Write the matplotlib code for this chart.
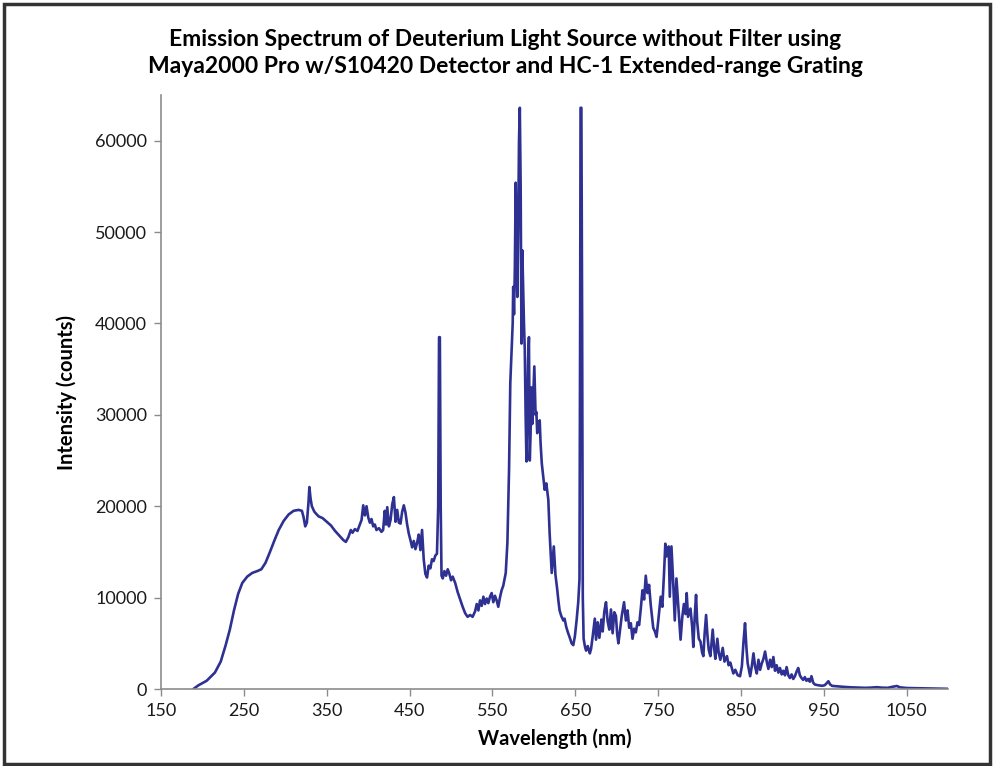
import matplotlib
matplotlib.use("Agg")
import matplotlib.pyplot as plt
from matplotlib.patches import Rectangle

# spectrum (wavelength nm, counts)
wavelength = [
    189, 195, 205, 215, 222, 228, 233, 238, 243, 248, 254, 260, 266, 271, 276, 281, 287, 292, 298, 304,
    310, 316, 320, 322, 324, 326, 328, 329, 330.5, 332, 335, 340, 345, 350, 355, 360, 365, 370, 373, 376,
    379, 381, 384, 387, 390, 392, 394, 396, 398, 400, 402, 404, 406, 408, 410, 413, 416, 418, 420, 421.5,
    423, 425, 427, 429, 431, 433, 435, 437, 439, 441, 443, 445, 447, 449, 451, 453, 455, 457, 459, 461,
    463, 465, 467, 469, 471, 473, 475, 477, 479, 481, 483, 484.5, 485.5, 486.5, 487.5, 488.5, 490, 492, 494, 496,
    498, 500, 502, 505, 508, 511, 514, 517, 520, 523, 526, 529, 531, 533, 535, 537, 539, 541, 543, 545,
    547, 549, 551, 553, 555, 557, 559, 561, 563, 566, 568, 570, 571.5, 573, 574.4, 575, 576, 577, 578, 579,
    580, 581, 582, 583, 584, 585, 586, 587, 588, 589, 590, 591, 592, 593, 594, 595, 596, 597, 598, 599,
    600.5, 602, 603, 604, 605, 607, 608, 609.5, 611, 613, 615, 617.4, 619, 621.5, 623, 624, 626, 628, 629.5, 631,
    633, 635.5, 637, 639, 641, 643, 645.5, 647.5, 649.5, 651.5, 653.5, 655, 655.8, 656.3, 657.3, 658.2, 659, 660, 661.7, 663,
    665, 667.5, 669, 671, 673.5, 675, 677, 679, 681.5, 683, 685, 687, 689, 691, 693, 695, 697, 699, 700.5, 702,
    704, 706, 708.8, 711, 713, 715, 717, 719, 721, 723, 725, 727, 729, 731, 733, 735, 737, 739, 741, 744,
    746, 748, 750, 753, 755, 757, 758.6, 760, 762.7, 764, 766, 768, 770, 772, 774, 777, 779, 781, 783, 784.4,
    786, 789, 791, 792.4, 794, 795.7, 797, 799, 801, 803, 804.5, 806, 807.8, 809.5, 811, 813, 815.8, 817.5, 819, 821.4,
    823, 825, 827.9, 830, 833, 835, 837, 840.7, 843, 846, 848.8, 851, 853, 854.8, 856.5, 858, 861, 863, 865, 867,
    869, 871, 873, 875, 877, 879, 881, 883, 885, 887, 889, 891, 893, 895, 897, 899, 901, 903, 905, 907,
    909, 911, 913, 915, 917, 919, 921, 923, 925, 927, 929, 931, 933, 935, 937, 939, 941, 944, 948, 951,
    953, 955.4, 957.5, 960, 965, 970, 975, 981.5, 987, 993, 1000, 1006, 1013.7, 1020, 1027, 1033, 1038, 1042, 1050, 1060,
    1070, 1080, 1090, 1100,
]
intensity = [
    0, 400, 900, 1800, 3000, 4800, 6500, 8600, 10400, 11600, 12300, 12700, 12900, 13100, 13800, 14900, 16300, 17400, 18400, 19100,
    19500, 19600, 19500, 18800, 17800, 18200, 20500, 22100, 20800, 20000, 19400, 18900, 18700, 18300, 17900, 17300, 16800, 16300, 16100, 16600,
    17400, 17100, 17500, 17300, 18000, 18500, 20100, 19000, 20000, 18800, 18200, 18600, 17800, 18000, 17400, 17600, 17200, 17400, 19500, 18000,
    19900, 17800, 18500, 20200, 21000, 18300, 19600, 18200, 18100, 19400, 20100, 19300, 18000, 17000, 16300, 15500, 16200, 15300, 16000, 16900,
    15200, 17400, 14200, 12600, 12200, 13500, 13200, 14200, 14000, 14600, 14800, 20000, 38500, 38500, 20000, 12400, 12100, 12900, 12400, 13100,
    12600, 11900, 12300, 11600, 10600, 9800, 9000, 8300, 7900, 8100, 7900, 8500, 9300, 8600, 9700, 9100, 10100, 9300, 9900, 9400,
    10100, 10500, 9500, 10200, 9700, 9000, 10000, 10800, 11300, 12700, 16000, 24000, 33500, 37000, 40000, 44000, 41000, 46000, 55400, 48000,
    42900, 50000, 60000, 63600, 55000, 37800, 48000, 44000, 40000, 37100, 30000, 24900, 30000, 36000, 38500, 25000, 28000, 33000, 29000, 31500,
    35300, 30000, 30300, 28000, 28300, 29400, 27000, 24700, 23500, 21800, 22500, 20700, 17000, 12700, 14500, 15600, 12500, 11000, 9700, 8600,
    8000, 7500, 7700, 6800, 6200, 5700, 5000, 4800, 5800, 7500, 9500, 12000, 40000, 63600, 63600, 40000, 10000, 5500, 4600, 4200,
    4700, 3900, 4400, 5800, 7700, 5400, 7300, 5600, 7600, 6300, 8500, 9500, 7400, 6500, 8700, 6100, 8400, 8000, 6000, 5000,
    6500, 8000, 9500, 7500, 8600, 6700, 7200, 5500, 6600, 6200, 7300, 7000, 8800, 10800, 9800, 12400, 10500, 11400, 9200, 6700,
    6300, 5700, 7400, 10100, 9000, 12600, 15900, 14500, 15600, 10100, 15600, 11900, 7500, 12100, 9400, 5400, 7800, 9300, 8200, 10500,
    7900, 8800, 6800, 4600, 7800, 10300, 7400, 5500, 5200, 4000, 3600, 6000, 8100, 5800, 4300, 3600, 6500, 4500, 3300, 5500,
    4000, 3200, 4500, 3000, 3600, 2600, 2900, 1700, 2100, 1500, 1400, 2500, 5200, 7200, 4500, 2800, 1400, 2500, 3900, 2400,
    1700, 3200, 2100, 2800, 3300, 4100, 3000, 2200, 3200, 2400, 3500, 2000, 2600, 1800, 2300, 1600, 2000, 1500, 2400, 1500,
    1200, 1600, 1100, 1400, 1900, 2300, 1500, 1200, 1000, 1300, 900, 1100, 800, 1400, 700, 500, 450, 400, 350, 420,
    600, 850, 500, 340, 300, 250, 230, 190, 170, 140, 130, 150, 200, 150, 130, 250, 330, 180, 110, 90,
    80, 60, 40, 20,
]

x_ticks = list(range(150, 1051, 100))
y_ticks = list(range(0, 60001, 10000))

title = ("Emission Spectrum of Deuterium Light Source without Filter using\n"
         "Maya2000 Pro w/S10420 Detector and HC-1 Extended-range Grating")

plt.rcParams['font.family'] = ['Lato', 'DejaVu Sans']

fig = plt.figure(figsize=(9.96, 7.66), dpi=100)
ax = fig.add_axes([0.1617, 0.1005, 0.952 - 0.1617, 0.876 - 0.1005])

ax.plot(wavelength, intensity, color='#2e3192', linewidth=1.9)

ax.set_xlim(150, 1100)
ax.set_ylim(0, 65000)
ax.set_xticks(x_ticks)
ax.set_yticks(y_ticks)
ax.tick_params(axis='both', labelsize=13, color='#8c8c8c', length=5, width=1, pad=5,
               labelcolor='#1a1a1a')

for side in ['top', 'right']:
    ax.spines[side].set_visible(False)
for side in ['left', 'bottom']:
    ax.spines[side].set_color('#8c8c8c')
    ax.spines[side].set_linewidth(1.2)

ax.set_xlabel("Wavelength (nm)", fontsize=14.5, fontweight='bold', labelpad=7)
ax.set_ylabel("Intensity (counts)", fontsize=14.5, fontweight='bold', labelpad=13)
fig.text(0.507, 0.931, title, ha='center', va='center', fontsize=16.5,
         fontweight='bold', linespacing=1.35)

# frame around the whole picture
fig.patches.append(Rectangle((0.004, 0.003), 0.99, 0.992, transform=fig.transFigure,
                             fill=False, edgecolor='#333333', linewidth=2.5))

fig.savefig("out.png", dpi=100)
